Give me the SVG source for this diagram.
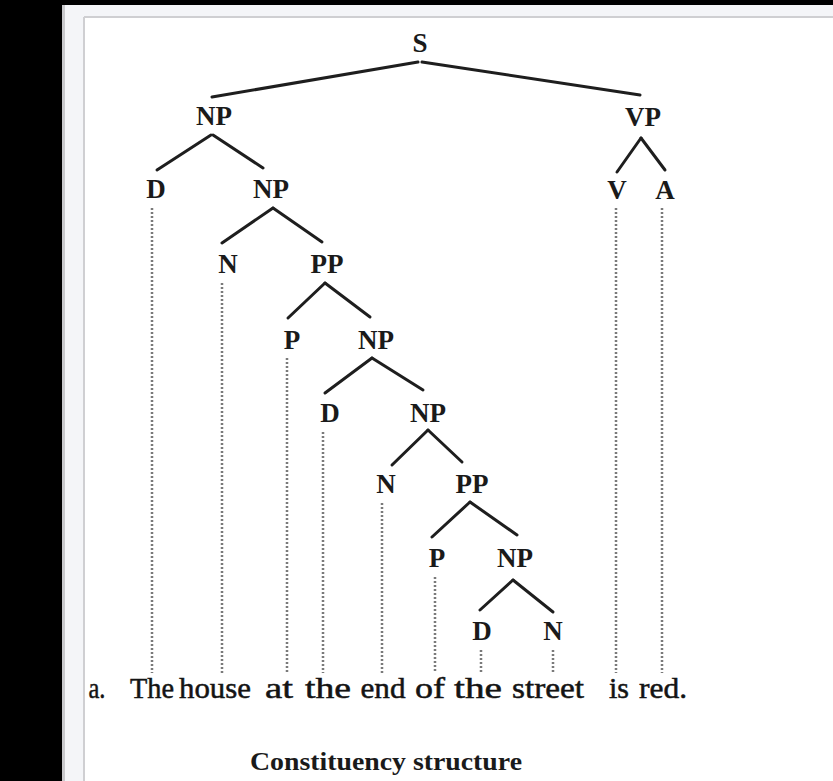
<svg xmlns="http://www.w3.org/2000/svg" width="833" height="781" viewBox="0 0 833 781">
<style>
.lbl{font-family:"Liberation Serif","Times New Roman",serif;font-size:27px;font-weight:bold;fill:#1a1a1a;text-anchor:middle}
.word{font-family:"Liberation Serif","Times New Roman",serif;font-size:30px;fill:#141414;text-anchor:middle;stroke:#141414;stroke-width:0.5}
.cap{font-family:"Liberation Serif","Times New Roman",serif;font-size:26px;font-weight:bold;fill:#1a1a1a;text-anchor:middle}
.edge{stroke:#1e1e1e;stroke-width:3;stroke-linecap:round;fill:none}
.dot{stroke:#7a7a7a;stroke-width:2.5;stroke-dasharray:2 2;fill:none}
</style>
<rect x="0" y="0" width="833" height="781" fill="#f4f5f8"/>
<rect x="0" y="0" width="62" height="781" fill="#000"/>
<rect x="0" y="0" width="833" height="5" fill="#000"/>
<line x1="63.5" y1="5" x2="63.5" y2="781" stroke="#c9c9cc" stroke-width="3"/>
<rect x="84" y="17" width="749" height="764" fill="#fff"/>
<line x1="84" y1="17" x2="84" y2="781" stroke="#cfcfd2" stroke-width="2"/>
<line x1="84" y1="17" x2="833" y2="17" stroke="#cfcfd2" stroke-width="2"/>

<g id="connectors">
<line class="edge" x1="418" y1="62" x2="212" y2="97"/>
<line class="edge" x1="422" y1="62" x2="640" y2="95"/>
<line class="edge" x1="211" y1="135" x2="157" y2="170"/>
<line class="edge" x1="213" y1="135" x2="263" y2="168"/>
<line class="edge" x1="273" y1="208" x2="222" y2="243"/>
<line class="edge" x1="273" y1="208" x2="322" y2="242"/>
<line class="edge" x1="325" y1="283" x2="288" y2="318"/>
<line class="edge" x1="325" y1="283" x2="370" y2="317"/>
<line class="edge" x1="372" y1="358" x2="325" y2="393"/>
<line class="edge" x1="372" y1="358" x2="423" y2="390"/>
<line class="edge" x1="428" y1="430" x2="392" y2="465"/>
<line class="edge" x1="428" y1="430" x2="462" y2="462"/>
<line class="edge" x1="470" y1="502" x2="432" y2="537"/>
<line class="edge" x1="470" y1="502" x2="517" y2="535"/>
<line class="edge" x1="513" y1="580" x2="480" y2="610"/>
<line class="edge" x1="513" y1="580" x2="553" y2="612"/>
<line class="edge" x1="641" y1="138" x2="617" y2="172"/>
<line class="edge" x1="641" y1="138" x2="665" y2="170"/>
<line class="dot" x1="152" y1="208" x2="152" y2="673"/>
<line class="dot" x1="222" y1="283" x2="222" y2="673"/>
<line class="dot" x1="287" y1="358" x2="287" y2="673"/>
<line class="dot" x1="323" y1="432" x2="323" y2="673"/>
<line class="dot" x1="382" y1="503" x2="382" y2="673"/>
<line class="dot" x1="435" y1="577" x2="435" y2="673"/>
<line class="dot" x1="481" y1="650" x2="481" y2="673"/>
<line class="dot" x1="553" y1="650" x2="553" y2="673"/>
<line class="dot" x1="616" y1="208" x2="616" y2="673"/>
<line class="dot" x1="662" y1="208" x2="662" y2="673"/>
</g>

<g id="n-S"><text class="lbl" x="420" y="52">S</text></g>
<g id="n-NP1"><text class="lbl" x="214" y="125">NP</text></g>
<g id="n-VP"><text class="lbl" x="643" y="126">VP</text></g>
<g id="n-D1"><text class="lbl" x="156" y="198">D</text></g>
<g id="n-NP2"><text class="lbl" x="271" y="198">NP</text></g>
<g id="n-V"><text class="lbl" x="617" y="199">V</text></g>
<g id="n-A"><text class="lbl" x="665" y="199">A</text></g>
<g id="n-N1"><text class="lbl" x="228" y="273">N</text></g>
<g id="n-PP1"><text class="lbl" x="327" y="273">PP</text></g>
<g id="n-P1"><text class="lbl" x="292" y="349">P</text></g>
<g id="n-NP3"><text class="lbl" x="376" y="349">NP</text></g>
<g id="n-D2"><text class="lbl" x="330" y="422">D</text></g>
<g id="n-NP4"><text class="lbl" x="428" y="422">NP</text></g>
<g id="n-N2"><text class="lbl" x="386" y="493">N</text></g>
<g id="n-PP2"><text class="lbl" x="472" y="493">PP</text></g>
<g id="n-P2"><text class="lbl" x="437" y="567">P</text></g>
<g id="n-NP5"><text class="lbl" x="515" y="567">NP</text></g>
<g id="n-D3"><text class="lbl" x="482" y="640">D</text></g>
<g id="n-N3"><text class="lbl" x="553" y="640">N</text></g>

<g id="sentence">
<text class="word" x="97" y="698" textLength="17" lengthAdjust="spacingAndGlyphs">a.</text>
<text class="word" x="152" y="698" textLength="44" lengthAdjust="spacingAndGlyphs">The</text>
<text class="word" x="215" y="698" textLength="72" lengthAdjust="spacingAndGlyphs">house</text>
<text class="word" x="279" y="698" textLength="28" lengthAdjust="spacingAndGlyphs">at</text>
<text class="word" x="328" y="698" textLength="46" lengthAdjust="spacingAndGlyphs">the</text>
<text class="word" x="383" y="698" textLength="45" lengthAdjust="spacingAndGlyphs">end</text>
<text class="word" x="430" y="698" textLength="30" lengthAdjust="spacingAndGlyphs">of</text>
<text class="word" x="478" y="698" textLength="48" lengthAdjust="spacingAndGlyphs">the</text>
<text class="word" x="548" y="698" textLength="72" lengthAdjust="spacingAndGlyphs">street</text>
<text class="word" x="619" y="698" textLength="20" lengthAdjust="spacingAndGlyphs">is</text>
<text class="word" x="663" y="698" textLength="48" lengthAdjust="spacingAndGlyphs">red.</text>
</g>
<g id="caption"><text class="cap" x="386" y="770" textLength="272" lengthAdjust="spacingAndGlyphs">Constituency structure</text></g>
</svg>
